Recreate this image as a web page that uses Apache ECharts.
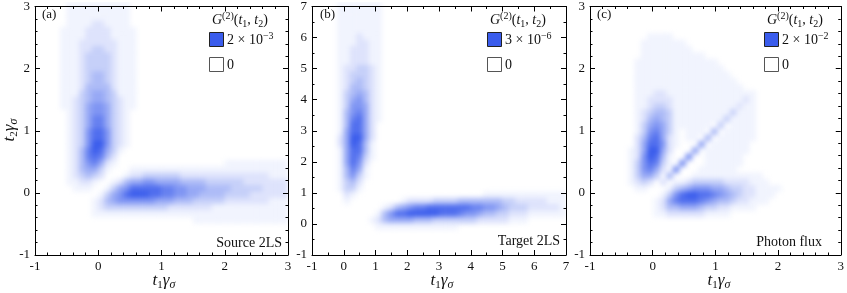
<!DOCTYPE html>
<html><head><meta charset="utf-8">
<script src="https://cdn.jsdelivr.net/npm/echarts@6/dist/echarts.min.js"></script>
<style>
html,body{margin:0;padding:0;background:#fff}
#wrap{position:relative;width:847px;height:293px}
#heat{position:absolute;left:0;top:0;width:847px;height:293px;filter:blur(2.6px);
  clip-path:path('M35 2H288V255H35Z M312 2H566V255H312Z M590 2H845V255H590Z')}
#chart{position:absolute;left:0;top:0;width:847px;height:293px}
</style>
</head><body><div id="wrap"><div id="heat"></div><div id="chart"></div></div>
<script>
// ---------------- DATA ----------------
// cell centres (t·γσ) of the sampled G2 maps
const tCellsAC = [-0.95,-0.85,-0.75,-0.65,-0.55,-0.45,-0.35,-0.25,-0.15,-0.05,0.05,0.15,0.25,0.35,0.45,0.55,0.65,0.75,0.85,0.95,1.05,1.15,1.25,1.35,1.45,1.55,1.65,1.75,1.85,1.95,2.05,2.15,2.25,2.35,2.45,2.55,2.65,2.75,2.85,2.95];
const tCellsB = [-0.9,-0.7,-0.5,-0.3,-0.1,0.1,0.3,0.5,0.7,0.9,1.1,1.3,1.5,1.7,1.9,2.1,2.3,2.5,2.7,2.9,3.1,3.3,3.5,3.7,3.9,4.1,4.3,4.5,4.7,4.9,5.1,5.3,5.5,5.7,5.9,6.1,6.3,6.5,6.7,6.9];
// intensity levels 0..9 (9 = legend maximum); rows from top (largest t2) to bottom, columns t1 left->right
const levelsA = [
"0000011111 1111100000 0000000000 0000000000",
"0000011111 1111100000 0000000000 0000000000",
"0000011111 1111100000 0000000000 0000000000",
"0000011112 2111100000 0000000000 0000000000",
"0000111122 2211110000 0000000000 0000000000",
"0000111122 2211110000 0000000000 0000000000",
"0000111222 2221110000 0000000000 0000000000",
"0000111223 3221110000 0000000000 0000000000",
"0000111233 3321110000 0000000000 0000000000",
"0000111233 3321110000 0000000000 0000000000",
"0000111233 3321110000 0000000000 0000000000",
"0000111234 4321110000 0000000000 0000000000",
"0000111234 4321110000 0000000000 0000000000",
"0000111244 4421110000 0000000000 0000000000",
"0000111345 5431110000 0000000000 0000000000",
"0000112345 5432110000 0000000000 0000000000",
"0000112356 6532110000 0000000000 0000000000",
"0000012356 6532100000 0000000000 0000000000",
"0000012357 7532100000 0000000000 0000000000",
"0000012357 7532100000 0000000000 0000000000",
"0000012368 8632100000 0000000000 0000000000",
"0000012368 8632100000 0000000000 0000000000",
"0000012369 9632100000 0000000000 0000000000",
"0000012479 8531000000 0000000000 0000000000",
"0000012478 7420000000 0000000000 0000000000",
"0000012467 5210000000 0000000000 1111111111",
"0000012455 3100011111 1111111111 1111111111",
"0000012343 2000122333 3332222222 2222222111",
"0000011221 0012455665 5554444333 3332222222",
"0000001110 0135688888 7766555444 4333332222",
"0000000000 1356899988 7766554444 3333222222",
"0000000001 2456666665 5544433333 2222222111",
"0000000001 2333333333 3222222211 1111111111",
"0000000001 1111111111 1111111111 1111111111",
"0000000000 0000000000 0000011111 1111111111",
"0000000000 0000000000 0000000000 0000000000",
"0000000000 0000000000 0000000000 0000000000",
"0000000000 0000000000 0000000000 0000000000",
"0000000000 0000000000 0000000000 0000000000",
"0000000000 0000000000 0000000000 0000000000"
];
const levelsB = [
"0000111111 1000000000 0000000000 0000000000",
"0000111111 1000000000 0000000000 0000000000",
"0000111111 1000000000 0000000000 0000000000",
"0000111111 1000000000 0000000000 0000000000",
"0000111111 1000000000 0000000000 0000000000",
"0000111211 1000000000 0000000000 0000000000",
"0000111221 1000000000 0000000000 0000000000",
"0000112221 1000000000 0000000000 0000000000",
"0000112221 1000000000 0000000000 0000000000",
"0000112221 1000000000 0000000000 0000000000",
"0000122332 1000000000 0000000000 0000000000",
"0000123332 1000000000 0000000000 0000000000",
"0000123432 1000000000 0000000000 0000000000",
"0000124432 1000000000 0000000000 0000000000",
"0000134542 1000000000 0000000000 0000000000",
"0000135642 1000000000 0000000000 0000000000",
"0000136652 1000000000 0000000000 0000000000",
"0000146752 1000000000 0000000000 0000000000",
"0000147852 1000000000 0000000000 0000000000",
"0000148852 0000000000 0000000000 0000000000",
"0000158852 0000000000 0000000000 0000000000",
"0000259952 0000000000 0000000000 0000000000",
"0000259841 0000000000 0000000000 0000000000",
"0000158841 0000000000 0000000000 0000000000",
"0000158731 0000000000 0000000000 0000000000",
"0000158620 0000000000 0000000000 0000000000",
"0000147510 0000000000 0000000000 0000000000",
"0000146310 0000000000 0000000000 0000000000",
"0000134200 0000000000 0000000000 0000000000",
"0000133100 0000000000 0000000000 0000000000",
"0000021000 0000000000 0000000111 1111111111",
"0000010000 0000122223 3334444444 3322222111",
"0000000000 0124567788 8888877665 4333222221",
"0000000000 1468899999 8887665443 3222111111",
"0000000001 2455554443 3333332222 2111000000",
"0000000000 1111111111 1110000000 0000000000",
"0000000000 0000000000 0000000000 0000000000",
"0000000000 0000000000 0000000000 0000000000",
"0000000000 0000000000 0000000000 0000000000",
"0000000000 0000000000 0000000000 0000000000"
];
const levelsC = [
"0000000000 0000000000 0000000000 0000000000",
"0000000000 0000000000 0000000000 0000000000",
"0000000000 0000000000 0000000000 0000000000",
"0000000000 0000000000 0000000000 0000000000",
"0000000000 0000000000 0000000000 0000000000",
"0000000001 1110000000 0000000000 0000000000",
"0000000011 1111100000 0000000000 0000000000",
"0000000011 1111110000 0000000000 0000000000",
"0000000011 1111111100 0000000000 0000000000",
"0000000111 1111111111 0000000000 0000000000",
"0000000111 1111111111 1000000000 0000000000",
"0000000111 1111111111 1100000000 0000000000",
"0000000111 1111111111 1110000000 0000000000",
"0000000111 1111111111 1111000000 0000000000",
"0000000111 2211111111 1111110000 0000000000",
"0000000112 2221111111 1111210000 0000000000",
"0000000112 3321111111 1112110000 0000000000",
"0000000123 4431111111 1131110000 0000000000",
"0000000124 5431111111 1311110000 0000000000",
"0000000135 6531111110 3011110000 0000000000",
"0000000136 7531011104 0111110000 0000000000",
"0000000247 8521011040 1111110000 0000000000",
"0000000258 8621000501 1111100000 0000000000",
"0000001259 9520005011 1111100000 0000000000",
"0000001269 8410060011 1111000000 0000000000",
"0000001368 7310600011 1111000000 0000000000",
"0000001367 5206000111 1110000000 0000000000",
"0000001355 3040001111 1111111000 0000000000",
"0000001232 0201123333 3222211100 0000000000",
"0000000110 0013456665 5433221111 0000000000",
"0000000000 0136899887 6543221110 0000000000",
"0000000000 1257888765 4432211100 0000000000",
"0000000000 1244555433 2211110000 0000000000",
"0000000000 1122222211 1100000000 0000000000",
"0000000000 0000000000 0000000000 0000000000",
"0000000000 0000000000 0000000000 0000000000",
"0000000000 0000000000 0000000000 0000000000",
"0000000000 0000000000 0000000000 0000000000",
"0000000000 0000000000 0000000000 0000000000",
"0000000000 0000000000 0000000000 0000000000"
];
const axisRangeAC = [-1, 3];
const axisRangeB = [-1, 7];
const panelTags = ['(a)', '(b)', '(c)'];
const panelNames = ['Source 2LS', 'Target 2LS', 'Photon flux'];
const legendMantissa = ['2', '3', '2'];
const legendExponent = ['\u22123', '\u22126', '\u22122'];

// ---------------- BUILD ----------------
function cellsFrom(rows, centers) {
  const out = [];
  const n = centers.length;
  rows.forEach((row, r) => {
    const s = row.replace(/\s+/g, '');
    const t2 = centers[n - 1 - r];
    for (let k = 0; k < Math.min(s.length, n); k++) {
      const v = +s[k];
      if (v > 0) out.push([centers[k], t2, v]);
    }
  });
  return out;
}
const SERIF = '"Liberation Serif", "Times New Roman", serif';
const WHITE = [255, 255, 255], BLUE = [58, 92, 236];
const SHADE = [0, 0.07, 0.17, 0.29, 0.41, 0.53, 0.65, 0.77, 0.89, 1.0];
function col(v) {
  const f = SHADE[Math.max(0, Math.min(9, Math.round(v)))];
  const c = WHITE.map((a, i) => Math.round(a + (BLUE[i] - a) * f));
  return 'rgb(' + c.join(',') + ')';
}
const panels = [
  { grid: { left: 35, top: 2, width: 253, height: 253 }, range: axisRangeAC, minor: 5, cells: cellsFrom(levelsA, tCellsAC), half: (tCellsAC[1] - tCellsAC[0]) / 2 },
  { grid: { left: 312, top: 2, width: 254, height: 253 }, range: axisRangeB, minor: 2, cells: cellsFrom(levelsB, tCellsB), half: (tCellsB[1] - tCellsB[0]) / 2 },
  { grid: { left: 590, top: 2, width: 255, height: 253 }, range: axisRangeAC, minor: 5, cells: cellsFrom(levelsC, tCellsAC), half: (tCellsAC[1] - tCellsAC[0]) / 2 }
];
function makeAxis(i, p, pos, labels, visible) {
  return {
    type: 'value', gridIndex: i, position: pos, min: p.range[0], max: p.range[1], interval: 1, show: visible,
    axisLine: { show: true, onZero: false, lineStyle: { color: '#000', width: 1 } },
    axisTick: { show: true, inside: true, length: 5, lineStyle: { color: '#000', width: 1 } },
    minorTick: { show: true, splitNumber: p.minor, length: 2.5, lineStyle: { color: '#000', width: 1 } },
    splitLine: { show: false }, minorSplitLine: { show: false },
    axisLabel: { show: labels, margin: 5, fontFamily: SERIF, fontSize: 13, color: '#111', showMinLabel: true, showMaxLabel: true }
  };
}

// ---- heat layer (blurred to mimic smooth density shading) ----
const heatX = [], heatY = [], heatSeries = [];
panels.forEach((p, i) => {
  heatX.push(makeAxis(i, p, 'bottom', false, false));
  heatY.push(makeAxis(i, p, 'left', false, false));
  const h = p.half;
  heatSeries.push({
    type: 'custom', xAxisIndex: i, yAxisIndex: i, data: p.cells, clip: true, silent: true,
    renderItem: function (params, api) {
      const x = api.value(0), y = api.value(1), v = api.value(2);
      const a = api.coord([x - h, y + h]), b = api.coord([x + h, y - h]);
      return { type: 'rect', shape: { x: a[0] - 0.3, y: a[1] - 0.3, width: b[0] - a[0] + 0.6, height: b[1] - a[1] + 0.6 }, style: { fill: col(v) } };
    }
  });
});
const heat = echarts.init(document.getElementById('heat'), null, { renderer: 'canvas' });
heat.setOption({
  animation: false, backgroundColor: 'transparent',
  grid: panels.map(p => Object.assign({}, p.grid)),
  xAxis: heatX, yAxis: heatY, series: heatSeries
});

// ---- frame, ticks, texts ----
const xAxes = [], yAxes = [], graphics = [];
panels.forEach((p, i) => {
  xAxes.push(makeAxis(i, p, 'bottom', true, true), makeAxis(i, p, 'top', false, true));
  yAxes.push(makeAxis(i, p, 'left', true, true), makeAxis(i, p, 'right', false, true));
});
const RICH = {
  i: { fontFamily: SERIF, fontStyle: 'italic', fontSize: 17, lineHeight: 20, fill: '#111' },
  s: { fontFamily: SERIF, fontSize: 11, lineHeight: 7, verticalAlign: 'bottom', fill: '#111' },
  si: { fontFamily: SERIF, fontStyle: 'italic', fontSize: 12, lineHeight: 7, verticalAlign: 'bottom', fill: '#111' }
};
const LRICH = {
  i: { fontFamily: SERIF, fontStyle: 'italic', fontSize: 14, lineHeight: 18, fill: '#111' },
  n: { fontFamily: SERIF, fontSize: 14, lineHeight: 18, fill: '#111' },
  s: { fontFamily: SERIF, fontSize: 10, lineHeight: 7, verticalAlign: 'bottom', fill: '#111' },
  sup: { fontFamily: SERIF, fontSize: 10, lineHeight: 8, verticalAlign: 'top', fill: '#111' }
};
const xTitleX = [164, 442, 719];
const tagX = [42, 320, 597];
const nameRight = [282, 560, 822];
const nameY = [243, 241, 242];
const legDx = [0, 278, 555];
panels.forEach((p, i) => {
  graphics.push({ type: 'text', z: 10, style: { x: xTitleX[i], y: 281, text: '{i|t}{s|1}{i|\u03b3}{si|\u03c3}', rich: RICH, textAlign: 'center', textVerticalAlign: 'middle' } });
  graphics.push({ type: 'text', z: 10, style: { x: tagX[i], y: 15, text: panelTags[i], fontFamily: SERIF, fontSize: 13, fill: '#111', textAlign: 'left', textVerticalAlign: 'middle' } });
  graphics.push({ type: 'text', z: 10, style: { x: nameRight[i], y: nameY[i], text: panelNames[i], fontFamily: SERIF, fontSize: 14, fill: '#111', textAlign: 'right', textVerticalAlign: 'middle' } });
  const dx = legDx[i];
  graphics.push({ type: 'text', z: 10, style: { x: 212 + dx, y: 20, text: '{i|G}{sup|(2)}{n|(}{i|t}{s|1}{n|, }{i|t}{s|2}{n|)}', rich: LRICH, textAlign: 'left', textVerticalAlign: 'middle' } });
  graphics.push({ type: 'rect', z: 10, shape: { x: 209.5 + dx, y: 32.5, width: 14, height: 14 }, style: { fill: col(9), stroke: '#222', lineWidth: 1 } });
  graphics.push({ type: 'text', z: 10, style: { x: 227 + dx, y: 40, text: '{n|' + legendMantissa[i] + ' \u00d7 10}{sup|' + legendExponent[i] + '}', rich: LRICH, textAlign: 'left', textVerticalAlign: 'middle' } });
  graphics.push({ type: 'rect', z: 10, shape: { x: 209.5 + dx, y: 57.5, width: 14, height: 14 }, style: { fill: '#fff', stroke: '#555', lineWidth: 1 } });
  graphics.push({ type: 'text', z: 10, style: { x: 227 + dx, y: 65, text: '0', fontFamily: SERIF, fontSize: 14, fill: '#111', textAlign: 'left', textVerticalAlign: 'middle' } });
});
graphics.push({ type: 'text', z: 10, x: 10, y: 130, rotation: Math.PI / 2, style: { x: 0, y: 0, text: '{i|t}{s|2}{i|\u03b3}{si|\u03c3}', rich: RICH, textAlign: 'center', textVerticalAlign: 'middle' } });

const chart = echarts.init(document.getElementById('chart'), null, { renderer: 'canvas' });
chart.setOption({
  animation: false,
  backgroundColor: 'transparent',
  grid: panels.map(p => Object.assign({}, p.grid)),
  xAxis: xAxes, yAxis: yAxes, series: [], graphic: graphics
});
</script></body></html>
